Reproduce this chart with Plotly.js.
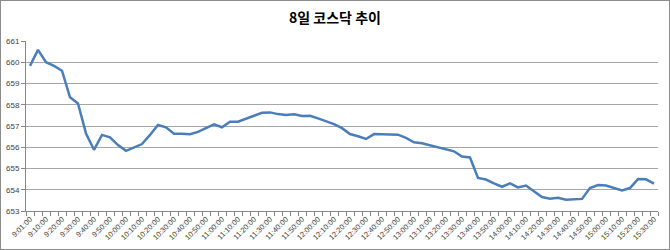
<!DOCTYPE html>
<html>
<head>
<meta charset="utf-8">
<script src="https://cdn.plot.ly/plotly-3.0.1.min.js"></script>
<style>
html,body{margin:0;padding:0;background:#fff;}
#chart{width:668px;height:248px;border:1px solid #8c8c8c;}
</style>
</head>
<body>
<div id="chart"></div>
<script>
// Time categories (9:01 then every 5 minutes to 15:30)
const times = ["9:01:00","9:05:00","9:10:00","9:15:00","9:20:00","9:25:00","9:30:00","9:35:00","9:40:00","9:45:00",
"9:50:00","9:55:00","10:00:00","10:05:00","10:10:00","10:15:00","10:20:00","10:25:00","10:30:00","10:35:00",
"10:40:00","10:45:00","10:50:00","10:55:00","11:00:00","11:05:00","11:10:00","11:15:00","11:20:00","11:25:00",
"11:30:00","11:35:00","11:40:00","11:45:00","11:50:00","11:55:00","12:00:00","12:05:00","12:10:00","12:15:00",
"12:20:00","12:25:00","12:30:00","12:35:00","12:40:00","12:45:00","12:50:00","12:55:00","13:00:00","13:05:00",
"13:10:00","13:15:00","13:20:00","13:25:00","13:30:00","13:35:00","13:40:00","13:45:00","13:50:00","13:55:00",
"14:00:00","14:05:00","14:10:00","14:15:00","14:20:00","14:25:00","14:30:00","14:35:00","14:40:00","14:45:00",
"14:50:00","14:55:00","15:00:00","15:05:00","15:10:00","15:15:00","15:20:00","15:25:00","15:30:00"];

// KOSDAQ index values
const kosdaq = [659.83,660.58,660.00,659.83,659.60,658.35,658.06,656.65,655.88,656.58,
656.47,656.10,655.83,655.98,656.15,656.58,657.05,656.94,656.64,656.64,
656.61,656.72,656.89,657.08,656.94,657.20,657.20,657.33,657.48,657.62,
657.64,657.56,657.52,657.55,657.47,657.48,657.36,657.22,657.09,656.90,
656.62,656.52,656.39,656.62,656.62,656.62,656.59,656.44,656.23,656.19,
656.09,656.02,655.90,655.81,655.56,655.52,654.56,654.48,654.30,654.14,
654.30,654.11,654.20,653.94,653.66,653.58,653.62,653.53,653.56,653.57,
654.08,654.22,654.20,654.10,653.97,654.08,654.50,654.49,654.29,654.28];

const yTicks = [653,654,655,656,657,658,659,660,661];
const chartTitle = "8일 코스닥 추이";

const idx = times.map((_, i) => i);
const labelIdx = idx.filter(i => i % 2 === 0);
const labelText = labelIdx.map(i => times[i]);

Plotly.newPlot('chart', [{
  x: idx,
  y: kosdaq,
  type: 'scatter',
  mode: 'lines',
  line: {color: '#4a7ebb', width: 2.5},
  hoverinfo: 'skip'
}], {
  width: 668, height: 248,
  margin: {l: 25, r: 11, t: 40, b: 38},
  paper_bgcolor: '#fff', plot_bgcolor: '#fff',
  showlegend: false,
  title: {text: chartTitle, x: 0.5, xanchor: 'center', y: 0.93, yanchor: 'middle',
    font: {family: '"Noto Sans CJK KR", sans-serif', size: 14, color: '#000', weight: 'bold'}},
  xaxis: {
    range: [-0.5, times.length - 0.5],
    tickmode: 'array', tickvals: labelIdx, ticktext: labelText,
    tickangle: -45, ticks: '',
    tickfont: {family: '"Liberation Sans", Arial, sans-serif', size: 7.5, color: '#404040'},
    showgrid: false, zeroline: false,
    showline: true, linecolor: '#868686', linewidth: 1,
    minor: {ticks: 'outside', ticklen: 4, tickcolor: '#868686', tick0: -0.5, dtick: 1, showgrid: false}
  },
  yaxis: {
    range: [653, 661],
    tickmode: 'array', tickvals: yTicks, ticktext: yTicks.map(String),
    ticks: 'outside', ticklen: 4, tickcolor: '#868686',
    tickfont: {family: '"Liberation Sans", Arial, sans-serif', size: 8, color: '#404040'},
    showgrid: true, gridcolor: '#a6a6a6', gridwidth: 1,
    zeroline: false, showline: true, linecolor: '#868686', linewidth: 1
  }
}, {staticPlot: true, displayModeBar: false});
</script>
</body>
</html>
